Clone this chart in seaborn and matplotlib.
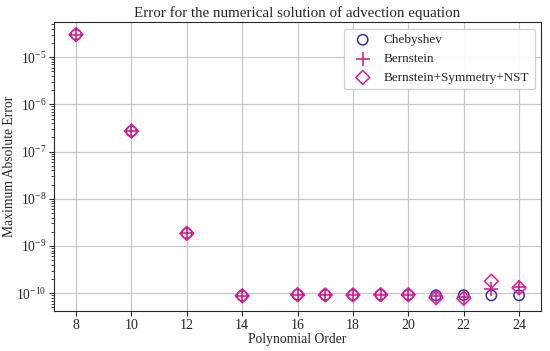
import matplotlib
matplotlib.use('Agg')
import matplotlib.pyplot as plt
import matplotlib.ticker as mticker
import seaborn as sns
import pandas as pd

orders = [8, 10, 12, 14, 16, 17, 18, 19, 20, 21, 22, 23, 24]
chebyshev = [3.0e-5, 2.7e-7, 1.85e-9, 8.8e-11, 9.3e-11, 9.2e-11, 9.2e-11, 9.3e-11, 9.3e-11, 9.0e-11, 9.1e-11, 9.0e-11, 9.0e-11]
bernstein = [3.0e-5, 2.7e-7, 1.85e-9, 8.8e-11, 9.3e-11, 9.2e-11, 9.2e-11, 9.3e-11, 9.3e-11, 8.6e-11, 8.2e-11, 1.22e-10, 1.38e-10]
nst = [3.0e-5, 2.7e-7, 1.85e-9, 8.8e-11, 9.3e-11, 9.2e-11, 9.2e-11, 9.3e-11, 9.3e-11, 8.0e-11, 7.8e-11, 1.8e-10, 1.3e-10]

df = pd.DataFrame({'order': orders, 'Chebyshev': chebyshev,
                   'Bernstein': bernstein, 'Bernstein+Symmetry+NST': nst})
long = df.melt(id_vars='order', var_name='method', value_name='error')

sns.set_style('ticks')
plt.rcParams['font.family'] = ['Liberation Serif', 'DejaVu Serif']
plt.rcParams['mathtext.fontset'] = 'stix'

fig, ax = plt.subplots(figsize=(5.5, 3.51), dpi=100)

styles = {
    'Chebyshev': dict(marker='o', facecolors='none', edgecolors='#3a2f9a', s=55, linewidths=1.1),
    'Bernstein': dict(marker='+', color='#d4157e', s=95, linewidths=1.1),
    'Bernstein+Symmetry+NST': dict(marker='D', facecolors='none', edgecolors='#e01a9e', s=50, linewidths=1.1),
}
for name in ['Chebyshev', 'Bernstein', 'Bernstein+Symmetry+NST']:
    sub = long[long['method'] == name]
    ax.scatter(sub['order'], sub['error'], label=name, zorder=3, **styles[name])

ax.set_yscale('log')
ax.set_ylim(4.2e-11, 5.5e-5)
ax.yaxis.set_minor_formatter(mticker.NullFormatter())
ax.set_xticks([8, 10, 12, 14, 16, 18, 20, 22, 24])
ax.grid(True, color='#c8c8c8', linewidth=0.9)
ax.set_axisbelow(True)
ax.tick_params(axis='x', labelsize=10, pad=2)
ax.tick_params(axis='y', labelsize=9.8, pad=2)

ax.set_title('Error for the numerical solution of advection equation', fontsize=10.8, pad=4)
ax.set_xlabel('Polynomial Order', fontsize=9.8, labelpad=1)
ax.set_ylabel('Maximum Absolute Error', fontsize=9.8)
ax.yaxis.set_label_coords(-0.077, 0.5)
ax.legend(loc='upper right', fontsize=9.5, framealpha=0.9, handletextpad=0.6)

plt.subplots_adjust(left=0.098, right=0.984, top=0.937, bottom=0.114)
plt.savefig('out.png', dpi=100)
